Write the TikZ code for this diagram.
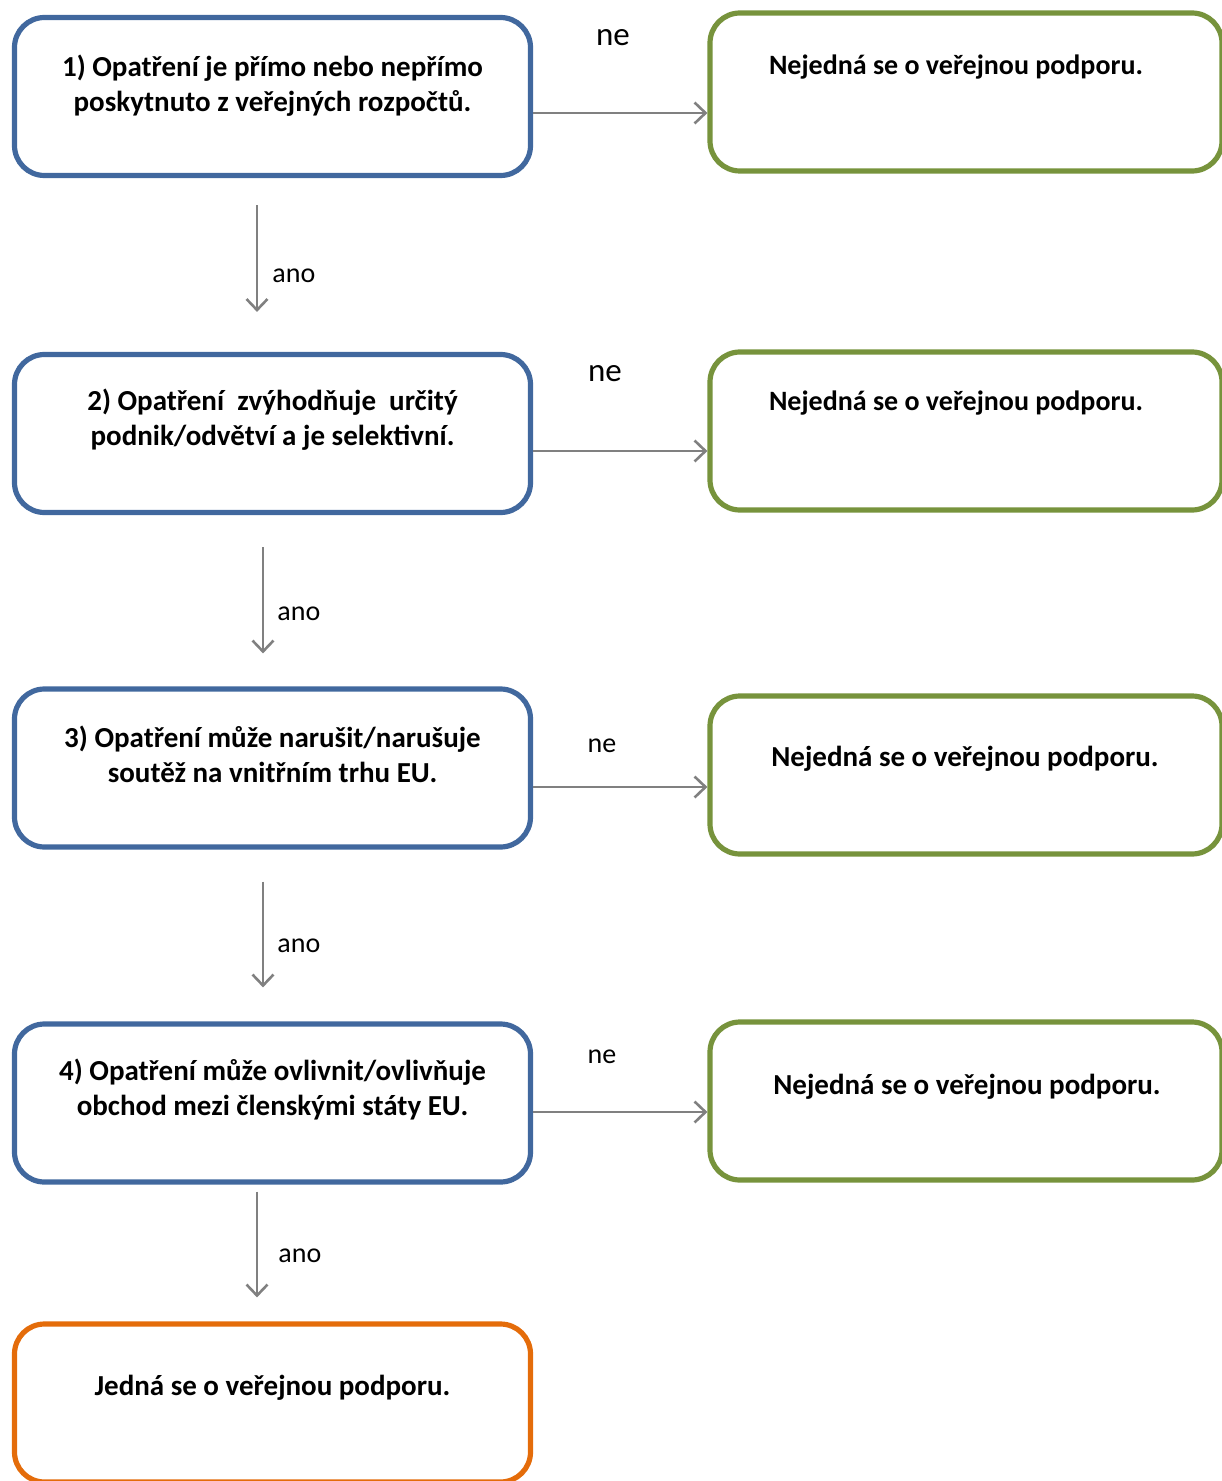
\documentclass[tikz,border=0pt]{standalone}
\usepackage{fontspec}
\setmainfont{Carlito}
\usetikzlibrary{positioning, calc, arrows.meta}
\definecolor{qblue}{RGB}{65,104,158}
\definecolor{ngreen}{RGB}{119,147,60}
\definecolor{yorange}{RGB}{228,108,10}
\definecolor{lgray}{RGB}{128,128,128}
\tikzset{%
  question/.style = {draw = qblue, line width = 2.6pt, rounded corners = 15pt,
    minimum width = 258pt, minimum height = 79pt},
  notaid/.style   = {question, draw = ngreen, minimum width = 256pt},
  isaid/.style    = {question, draw = yorange},
  qtext/.style    = {align = center, font = \bfseries\fontsize{14.5}{17.5}\selectfont},
  flow/.style     = {draw = lgray, line width = 1.3pt,
    -{Straight Barb[length = 5.5pt, width = 10.5pt]}},
  ans/.style      = {font = \fontsize{14}{16}\selectfont, inner sep = 0pt}
}

\begin{document}
\begin{tikzpicture}[x = 0.5pt, y = -0.5pt]
\useasboundingbox (0,0) rectangle (1221,1481);
%question boxes
\node [question] (b1) at (272.5,96.5) {};
\node [question] (b2) at (272.5,433.5) {};
\node [question] (b3) at (272.5,768) {};
\node [question] (b4) at (272.5,1103) {};
\node [isaid] (b5) at (272.5,1403) {};
%answer boxes
\node [notaid] (r1) at (966,92) {};
\node [notaid] (r2) at (966,431) {};
\node [notaid] (r3) at (966,775) {};
\node [notaid] (r4) at (966,1101) {};
%box texts
\node [qtext] (t1) at ($(b1)+(0,-11)$) {1) Opatření je přímo nebo nepřímo\\poskytnuto z veřejných rozpočtů.};
\node [qtext] (t2) at ($(b2)+(0,-13.5)$) {2) Opatření\ \ zvýhodňuje\ \ určitý\\podnik/odvětví a je selektivní.};
\node [qtext] (t3) at ($(b3)+(0,-14)$) {3) Opatření může narušit/narušuje\\soutěž na vnitřním trhu EU.};
\node [qtext] (t4) at ($(b4)+(0,-13)$) {4) Opatření může ovlivnit/ovlivňuje\\obchod mezi členskými státy EU.};
\node [qtext] (t5) at ($(b5)+(0,-15)$) {Jedná se o veřejnou podporu.};
\node [qtext, font = \bfseries\fontsize{14}{17}\selectfont] (n1) at ($(r1)+(-10,-25)$) {Nejedná se o veřejnou podporu.};
\node [qtext, font = \bfseries\fontsize{14}{17}\selectfont] (n2) at ($(r2)+(-10,-28)$) {Nejedná se o veřejnou podporu.};
\node [qtext] (n3) at ($(r3)+(-1,-16)$) {Nejedná se o veřejnou podporu.};
\node [qtext] (n4) at ($(r4)+(1,-14)$) {Nejedná se o veřejnou podporu.};
%ne lines
\draw [flow] (b1.east |- 0,113) -- (r1.west |- 0,113);
\draw [flow] (b2.east |- 0,451) -- (r2.west |- 0,451);
\draw [flow] (b3.east |- 0,787) -- (r3.west |- 0,787);
\draw [flow] (b4.east |- 0,1112) -- (r4.west |- 0,1112);
%ano lines
\draw [flow] ($(b1.south)+(-15.5,27)$) coordinate (a1) -- ($(b2.north)+(-15.5,-40)$) coordinate (e1);
\draw [flow] ($(b2.south)+(-9.5,32)$) coordinate (a2) -- ($(b3.north)+(-9.5,-33)$) coordinate (e2);
\draw [flow] ($(b3.south)+(-9.5,32)$) coordinate (a3) -- ($(b4.north)+(-9.5,-34)$) coordinate (e3);
\draw [flow] ($(b4.south)+(-15.5,7)$) coordinate (a4) -- ($(b5.north)+(-15.5,-24)$) coordinate (e4);
%labels
\node [ans, font = \fontsize{16.5}{18}\selectfont] (ne1) at (613,38) {ne};
\node [ans, font = \fontsize{16.5}{18}\selectfont] (ne2) at (605,374) {ne};
\node [ans] (ne3) at (602,746) {ne};
\node [ans] (ne4) at (602,1057) {ne};
\node [ans, anchor = west] (ano1) at (272,276) {ano};
\node [ans, anchor = west] (ano2) at (277,614) {ano};
\node [ans, anchor = west] (ano3) at (277,946) {ano};
\node [ans, anchor = west] (ano4) at (278,1256) {ano};
\end{tikzpicture}
\end{document}
